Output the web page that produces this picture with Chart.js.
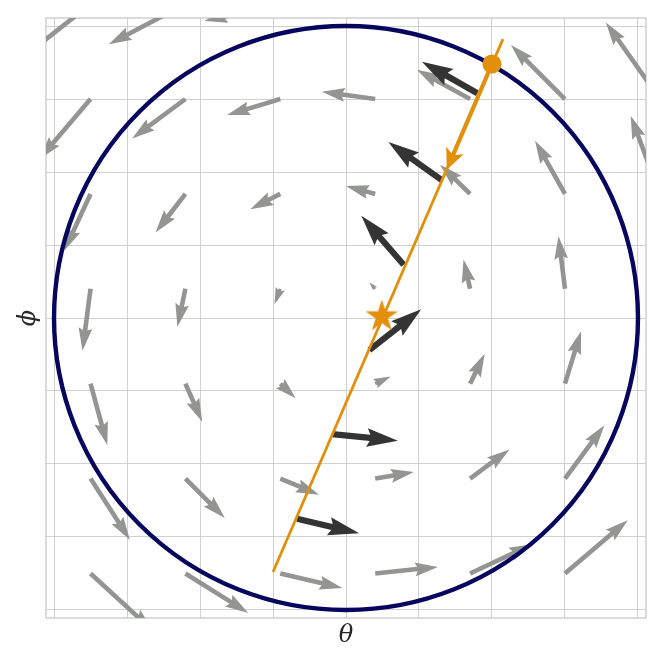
<!DOCTYPE html>
<html>
<head>
<meta charset="utf-8">
<script src="https://cdn.jsdelivr.net/npm/chart.js@4/dist/chart.umd.min.js"></script>
<style>
  html, body { margin: 0; padding: 0; background: #fff; }
</style>
</head>
<body>
<canvas id="myChart" width="664" height="664"></canvas>
<script>
// axes
var axisLimit = 4.11;
var gridTicks = [-4, -3, -2, -1, 0, 1, 2, 3, 4];
var circleRadius = 4;

// grey vector field (tail x, tail y, u, v), row by row from top
var grayX = [-3.5, -2.2, -0.9,
             -3.5, -2.2, -0.9, 0.4, 1.7, 3.0, 4.3,
             -3.5, -2.2, -0.9, 0.4, 1.7, 3.0, 4.3,
             -3.5, -2.2, -0.9, 0.4, 1.7, 3.0,
             -3.5, -2.2, -0.9, 0.4, 1.7, 3.0,
             -3.5, -2.2, -0.9, 0.4, 1.7, 3.0,
             -3.5, -2.2, -0.9, 0.4, 1.7, 3.0];
var grayY = [4.3, 4.3, 4.3,
             3.0, 3.0, 3.0, 3.0, 3.0, 3.0, 3.0,
             1.7, 1.7, 1.7, 1.7, 1.7, 1.7, 1.7,
             0.4, 0.4, 0.4, 0.4, 0.4, 0.4,
             -0.9, -0.9, -0.9, -0.9, -0.9, -0.9,
             -2.2, -2.2, -2.2, -2.2, -2.2, -2.2,
             -3.5, -3.5, -3.5, -3.5, -3.5, -3.5];
var grayU = [-1.04, -1.05, -1.04,
             -0.70, -0.73, -0.73, -0.73, -0.73, -0.74, -0.74,
             -0.36, -0.41, -0.41, -0.40, -0.41, -0.41, -0.40,
             -0.11, -0.11, -0.08, -0.08, -0.09, -0.09,
             0.23, 0.23, 0.21, 0.21, 0.20, 0.22,
             0.54, 0.54, 0.53, 0.53, 0.54, 0.54,
             0.85, 0.86, 0.85, 0.86, 0.85, 0.86];
var grayV = [-0.82, -0.55, -0.23,
             -0.82, -0.54, -0.22, 0.10, 0.40, 0.74, 1.05,
             -0.78, -0.53, -0.21, 0.11, 0.40, 0.73, 1.07,
             -0.85, -0.52, -0.21, 0.09, 0.40, 0.72,
             -0.84, -0.52, -0.20, 0.10, 0.41, 0.72,
             -0.84, -0.54, -0.22, 0.09, 0.40, 0.73,
             -0.78, -0.54, -0.20, 0.09, 0.40, 0.73];

// dark vectors along the orange line
var darkX = [1.80, 1.31, 0.79, 0.32, -0.19, -0.67];
var darkY = [3.08, 1.89, 0.73, -0.44, -1.59, -2.75];
var darkU = [-0.76, -0.73, -0.58, 0.71, 0.90, 0.85];
var darkV = [0.43, 0.52, 0.67, 0.56, -0.09, -0.20];

// orange line, start point, direction arrow and star
var lineX = [-1.00, 2.15];
var lineY = [-3.48, 3.82];
var dotX = 2.00, dotY = 3.48;
var stepU = -0.62, stepV = -1.45;
var starX = 0.49, starY = 0.02;

var orange = '#e28f0c';
var navy = '#06065f';
var gridColor = '#d0d0d0';

function makeStar(r, color) {
    var c = document.createElement('canvas');
    c.width = c.height = Math.ceil(r * 2) + 2;
    var g = c.getContext('2d');
    var m = c.width / 2;
    g.beginPath();
    for (var i = 0; i < 10; i++) {
        var rad = (i % 2 == 0) ? r : r * 0.382;
        var a = -Math.PI / 2 + i * Math.PI / 5;
        g.lineTo(m + rad * Math.cos(a), m + rad * Math.sin(a));
    }
    g.closePath();
    g.fillStyle = color;
    g.fill();
    return c;
}

// quiver style arrow: shaft w, head 3w wide, 5w long, 4.5w axis
function arrow(ctx, x0, y0, x1, y1, w, hl, hal, hw, color) {
    var L = Math.hypot(x1 - x0, y1 - y0);
    if (L < hl) {
        var s = L / hl;
        w *= s; hl *= s; hal *= s; hw *= s;
    }
    var ang = Math.atan2(y1 - y0, x1 - x0);
    ctx.save();
    ctx.translate(x0, y0);
    ctx.rotate(ang);
    ctx.beginPath();
    ctx.moveTo(0, w / 2);
    ctx.lineTo(L - hal, w / 2);
    ctx.lineTo(L - hl, hw / 2);
    ctx.lineTo(L, 0);
    ctx.lineTo(L - hl, -hw / 2);
    ctx.lineTo(L - hal, -w / 2);
    ctx.lineTo(0, -w / 2);
    ctx.closePath();
    ctx.fillStyle = color;
    ctx.fill();
    ctx.restore();
}

function drawField(chart, xs, ys, us, vs, w, color) {
    var sx = chart.scales.x, sy = chart.scales.y, ctx = chart.ctx;
    for (var i = 0; i < xs.length; i++) {
        arrow(ctx,
            sx.getPixelForValue(xs[i]), sy.getPixelForValue(ys[i]),
            sx.getPixelForValue(xs[i] + us[i]), sy.getPixelForValue(ys[i] + vs[i]),
            w, 5 * w, 4.5 * w, 3 * w, color);
    }
}

var fieldPlugin = {
    id: 'field',
    beforeDatasetsDraw: function(chart) {
        var ctx = chart.ctx, a = chart.chartArea;
        var sx = chart.scales.x, sy = chart.scales.y;
        ctx.save();
        // frame round the plot
        ctx.strokeStyle = gridColor;
        ctx.lineWidth = 1.5;
        ctx.strokeRect(a.left, a.top, a.right - a.left, a.bottom - a.top);
        ctx.beginPath();
        ctx.rect(a.left, a.top, a.right - a.left, a.bottom - a.top);
        ctx.clip();
        drawField(chart, grayX, grayY, grayU, grayV, 4.6, '#939593');
        drawField(chart, darkX, darkY, darkU, darkV, 6.2, '#343434');
        // circle
        var cx = sx.getPixelForValue(0), cy = sy.getPixelForValue(0);
        var r = sx.getPixelForValue(circleRadius) - cx;
        ctx.beginPath();
        ctx.arc(cx, cy, r, 0, Math.PI * 2);
        ctx.strokeStyle = navy;
        ctx.lineWidth = 4.4;
        ctx.stroke();
        ctx.restore();
    },
    afterDatasetsDraw: function(chart) {
        var sx = chart.scales.x, sy = chart.scales.y;
        arrow(chart.ctx,
            sx.getPixelForValue(dotX), sy.getPixelForValue(dotY),
            sx.getPixelForValue(dotX + stepU), sy.getPixelForValue(dotY + stepV),
            4.2, 21, 17, 19, orange);
    }
};

var titleFont = { family: 'DejaVu Serif', style: 'italic', size: 24 };

var ctx = document.getElementById('myChart').getContext('2d');
var chart = new Chart(ctx, {
    type: 'scatter',
    data: {
        datasets: [{
            // the line through the star
            data: [{ x: lineX[0], y: lineY[0] }, { x: lineX[1], y: lineY[1] }],
            showLine: true,
            borderColor: orange,
            borderWidth: 2.8,
            pointRadius: 0
        }, {
            data: [{ x: dotX, y: dotY }],
            pointRadius: 9.5,
            backgroundColor: orange,
            borderWidth: 0
        }, {
            data: [{ x: starX, y: starY }],
            pointStyle: makeStar(17, orange),
            pointRadius: 17
        }]
    },
    options: {
        responsive: false,
        animation: false,
        events: [],
        layout: { padding: { top: 16, right: 17, left: 0, bottom: 0 } },
        plugins: { legend: { display: false }, tooltip: { enabled: false } },
        scales: {
            x: {
                type: 'linear',
                min: -axisLimit,
                max: axisLimit,
                afterBuildTicks: function(s) { s.ticks = gridTicks.map(function(v) { return { value: v }; }); },
                afterFit: function(s) { s.height = 46; },
                ticks: { display: false },
                grid: { color: gridColor, lineWidth: 1, drawTicks: false },
                border: { display: false },
                title: { display: true, text: 'θ', font: titleFont, color: '#262626', padding: { top: 0, bottom: 14 } }
            },
            y: {
                type: 'linear',
                min: -axisLimit,
                max: axisLimit,
                afterBuildTicks: function(s) { s.ticks = gridTicks.map(function(v) { return { value: v }; }); },
                afterFit: function(s) { s.width = 46; },
                ticks: { display: false },
                grid: { color: gridColor, lineWidth: 1, drawTicks: false },
                border: { display: false },
                title: { display: true, text: 'ϕ', font: titleFont, color: '#262626', padding: { top: 14, bottom: 0 } }
            }
        }
    },
    plugins: [fieldPlugin]
});
</script>
</body>
</html>
